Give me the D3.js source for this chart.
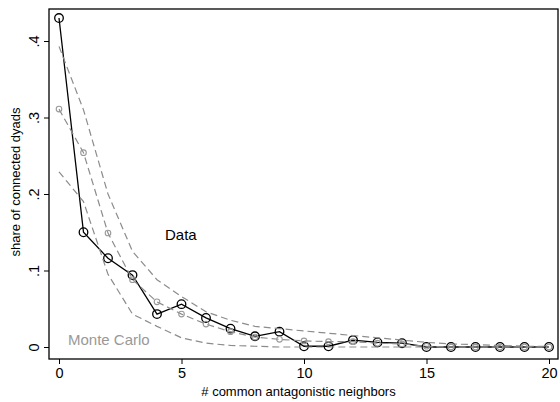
<!DOCTYPE html>
<html>
<head>
<meta charset="utf-8">
<script src="https://cdn.jsdelivr.net/npm/d3@7"></script>
<style>
  body { margin: 0; background: #fff; }
  text { font-family: "Liberation Sans", Arial, sans-serif; }
</style>
</head>
<body>
<div id="chart"></div>
<script>
// --------------------------------------
//  Data
// --------------------------------------

const neighbors = d3.range(0, 21);
const observed = [0.430, 0.150, 0.116, 0.094, 0.043, 0.056, 0.038, 0.024, 0.014, 0.020,
                  0.001, 0.001, 0.009, 0.006, 0.005, 0.000, 0.000, 0.000, 0.000, 0.000, 0.000];
const mcMean = [0.311, 0.254, 0.149, 0.088, 0.059, 0.043, 0.030, 0.020, 0.013, 0.010,
                0.008, 0.007, 0.007, 0.005, 0.004, 0.001, 0.000, 0.000, 0.000, 0.000, 0.000];
const mcUpper = [0.393, 0.310, 0.200, 0.125, 0.088, 0.066, 0.046, 0.035, 0.027, 0.024,
                 0.021, 0.018, 0.015, 0.012, 0.009, 0.006, 0.004, 0.003, 0.002, 0.001, 0.001];
const mcLower = [0.229, 0.190, 0.095, 0.043, 0.027, 0.012, 0.005, 0.002, 0.001, 0.000,
                 0.000, 0.000, 0.000, 0.000, 0.000, 0.000, 0.000, 0.000, 0.000, 0.000, 0.000];
const xTicks = [0, 5, 10, 15, 20];
const yTicks = [0, 0.1, 0.2, 0.3, 0.4];
const yTickLabels = ["0", ".1", ".2", ".3", ".4"];

// --------------------------------------
//  Margin and canvas
// --------------------------------------

const width = 560;
const height = 402;
const frame = {left: 49, top: 9, right: 558, bottom: 359};

const svg = d3.select("#chart")
  .append("svg")
    .attr("width", width)
    .attr("height", height);

// --------------------------------------
//  Scales
// --------------------------------------

const x = d3.scaleLinear()
    .domain([0, 20])
    .range([59, 549]);

const y = d3.scaleLinear()
    .domain([0, 0.4])
    .range([347, 41]);

// frame
svg.append("rect")
    .attr("x", frame.left)
    .attr("y", frame.top)
    .attr("width", frame.right - frame.left)
    .attr("height", frame.bottom - frame.top)
    .attr("fill", "none")
    .attr("stroke", "#000")
    .attr("stroke-width", 1.3);

// --------------------------------------
//  Axes
// --------------------------------------

const xAxis = svg.append("g")
    .attr("transform", `translate(0, ${frame.bottom})`)
    .call(d3.axisBottom(x)
      .tickValues(xTicks)
      .tickSize(5)
      .tickPadding(4)
      .tickFormat(d3.format("d")));
xAxis.select(".domain").remove();
xAxis.selectAll("text").attr("font-size", 14.5).attr("fill", "#000")
    .attr("font-family", "Liberation Sans, Arial, sans-serif");

const yAxis = svg.append("g")
    .attr("transform", `translate(${frame.left}, 0)`)
    .call(d3.axisLeft(y)
      .tickValues(yTicks)
      .tickSize(5)
      .tickFormat((d, i) => yTickLabels[i]));
yAxis.select(".domain").remove();
yAxis.selectAll("text")
    .attr("font-size", 14.5)
    .attr("fill", "#000")
    .attr("font-family", "Liberation Sans, Arial, sans-serif")
    .attr("x", null).attr("dy", null)
    .attr("text-anchor", "middle")
    .attr("transform", "translate(-10, 0) rotate(-90)");

svg.append("text")
    .attr("x", (frame.left + frame.right) / 2 - 5)
    .attr("y", 396)
    .attr("text-anchor", "middle")
    .attr("font-size", 13)
    .text("# common antagonistic neighbors");

svg.append("text")
    .attr("transform", `translate(20, 182) rotate(-90)`)
    .attr("text-anchor", "middle")
    .attr("font-size", 13)
    .text("share of connected dyads");

// --------------------------------------
//  Data drawing
// --------------------------------------

const line = d3.line()
    .x((d, i) => x(neighbors[i]))
    .y(d => y(d));

// observed
svg.append("path")
    .datum(observed)
    .attr("d", line)
    .attr("fill", "none")
    .attr("stroke", "#000")
    .attr("stroke-width", 1.3);

svg.append("g")
    .selectAll("circle")
    .data(observed)
    .join("circle")
    .attr("cx", (d, i) => x(neighbors[i]))
    .attr("cy", d => y(d))
    .attr("r", 4.3)
    .attr("fill", "none")
    .attr("stroke", "#000")
    .attr("stroke-width", 1.3);

// monte carlo bands
[mcUpper, mcLower, mcMean].forEach(series => {
  svg.append("path")
      .datum(series)
      .attr("d", line)
      .attr("fill", "none")
      .attr("stroke", "#8c8c8c")
      .attr("stroke-width", 1.2)
      .attr("stroke-dasharray", "7,4");
});

svg.append("g")
    .selectAll("circle")
    .data(mcMean)
    .join("circle")
    .attr("cx", (d, i) => x(neighbors[i]))
    .attr("cy", d => y(d))
    .attr("r", 2.8)
    .attr("fill", "none")
    .attr("stroke", "#999")
    .attr("stroke-width", 1.1);

// labels
svg.append("text")
    .attr("x", 165)
    .attr("y", 240)
    .attr("font-size", 15)
    .attr("fill", "#000")
    .text("Data");

svg.append("text")
    .attr("x", 68)
    .attr("y", 345)
    .attr("font-size", 15)
    .attr("fill", "#999")
    .text("Monte Carlo");
</script>
</body>
</html>
